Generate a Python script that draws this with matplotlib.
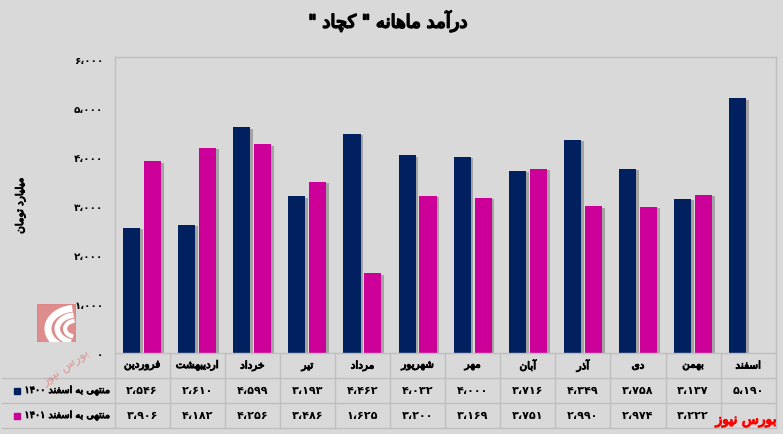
import re
import numpy as np
import matplotlib
matplotlib.use("Agg")
import matplotlib.pyplot as plt
from matplotlib import patheffects as pe
from matplotlib.patches import Rectangle, Arc

# data
months = ["فروردین", "اردیبهشت", "خرداد", "تیر", "مرداد", "شهریور",
          "مهر", "آبان", "آذر", "دی", "بهمن", "اسفند"]
rev_1400 = [2546, 2610, 4599, 3193, 4462, 4032, 4000, 3716, 4349, 3758, 3137, 5190]
rev_1401 = [3906, 4182, 4256, 3486, 1625, 3200, 3169, 3751, 2990, 2974, 3222, np.nan]
series_names = ["منتهی به اسفند ۱۴۰۰", "منتهی به اسفند ۱۴۰۱"]
title = 'درآمد ماهانه " کچاد "'
ylabel = "میلیارد تومان"
yticks = [0, 1000, 2000, 3000, 4000, 5000, 6000]
source = "بورس نیوز"

navy = "#002060"
magenta = "#CC0099"
bg = "#d9d9d9"
grid_c = "#bfbfbf"

# tiny arabic shaper (matplotlib has no complex text layout)
FORMS = {
    'ا': ('\uFE8D', '\uFE8E', None, None),
    'آ': ('\uFE81', '\uFE82', None, None),
    'ب': ('\uFE8F', '\uFE90', '\uFE91', '\uFE92'),
    'ت': ('\uFE95', '\uFE96', '\uFE97', '\uFE98'),
    'خ': ('\uFEA5', '\uFEA6', '\uFEA7', '\uFEA8'),
    'د': ('\uFEA9', '\uFEAA', None, None),
    'ذ': ('\uFEAB', '\uFEAC', None, None),
    'ر': ('\uFEAD', '\uFEAE', None, None),
    'ز': ('\uFEAF', '\uFEB0', None, None),
    'س': ('\uFEB1', '\uFEB2', '\uFEB3', '\uFEB4'),
    'ش': ('\uFEB5', '\uFEB6', '\uFEB7', '\uFEB8'),
    'ف': ('\uFED1', '\uFED2', '\uFED3', '\uFED4'),
    'ل': ('\uFEDD', '\uFEDE', '\uFEDF', '\uFEE0'),
    'م': ('\uFEE1', '\uFEE2', '\uFEE3', '\uFEE4'),
    'ن': ('\uFEE5', '\uFEE6', '\uFEE7', '\uFEE8'),
    'ه': ('\uFEE9', '\uFEEA', '\uFEEB', '\uFEEC'),
    'و': ('\uFEED', '\uFEEE', None, None),
    '\u06CC': ('\uFBFC', '\uFBFD', '\uFBFE', '\uFBFF'),
    '\u06A9': ('\uFB8E', '\uFB8F', '\uFB90', '\uFB91'),
    'چ': ('\uFB7A', '\uFB7B', '\uFB7C', '\uFB7D'),
}


def fa(s):
    s = s.replace('\u064A', '\u06CC').replace('\u0643', '\u06A9')
    out = []
    for i, c in enumerate(s):
        if c not in FORMS:
            out.append(c)
            continue
        f = FORMS[c]
        prev = s[i - 1] if i > 0 else ''
        nxt = s[i + 1] if i + 1 < len(s) else ''
        jp = prev in FORMS and FORMS[prev][2] is not None
        jn = f[2] is not None and nxt in FORMS
        if jp and jn:
            out.append(f[3])
        elif jp:
            out.append(f[1])
        elif jn:
            out.append(f[2])
        else:
            out.append(f[0])
    vis = ''.join(out)[::-1]
    return re.sub('[۰-۹،]+', lambda m: m.group(0)[::-1], vis)


def fa_num(v):
    s = f"{int(v):,}".replace(",", "،")
    return s.translate(str.maketrans("0123456789", "۰۱۲۳۴۵۶۷۸۹"))


def heavy(color='black', w=0.7):
    # regular face has all arabic forms, thicken it with a stroke
    return [pe.withStroke(linewidth=w, foreground=color)]


plt.rcParams['font.family'] = ['DejaVu Sans']

W, H = 783, 435
fig = plt.figure(figsize=(W / 100, H / 100), dpi=100, facecolor=bg)

x0, x1, y_top, y_bot = 114.5, 775.7, 58.3, 354.0
ax = fig.add_axes([x0 / W, 1 - y_bot / H, (x1 - x0) / W, (y_bot - y_top) / H])
ax.set_facecolor(bg)

x = np.arange(len(months))
bw, off = 0.31, 0.19
shadow = [pe.SimplePatchShadow(offset=(2, -1), shadow_rgbFace='#808080', alpha=0.6), pe.Normal()]
b1 = ax.bar(x - off, rev_1400, bw, color=navy)
b2 = ax.bar(x + off, rev_1401, bw, color=magenta)
for b in list(b1) + list(b2):
    b.set_path_effects(shadow)

ax.set_xlim(-0.5, 11.5)
ax.set_ylim(0, 6000 * (y_bot - y_top) / (y_bot - 59.6))
ax.set_xticks([])
ax.set_yticks(yticks)
ax.set_yticklabels([fa_num(v) for v in yticks], fontsize=7.5, fontweight='bold')
ax.tick_params(axis='y', length=0, pad=8)
for sp in ax.spines.values():
    sp.set_color(grid_c)
    sp.set_linewidth(1)

fig.text(388 / W, 1 - 22 / H, fa(title), ha='center', va='center', fontsize=13,
         path_effects=heavy(w=1.2))
fig.text(20 / W, 1 - 207 / H, fa(ylabel), ha='center', va='center', rotation=90,
         fontsize=7.5, path_effects=heavy())

# data table under the plot
tab = fig.add_axes([x0 / W, 1 - 429 / H, (x1 - x0) / W, (429 - y_bot) / H])
tab.set_xlim(-0.5, 11.5)
tab.set_ylim(3, 0)
tab.axis('off')
unit = (x1 - x0) / 12
left = -0.5 - (x0 - 2) / unit
for r in [1, 2, 3]:
    tab.plot([left, 11.5], [r, r], color=grid_c, lw=1, clip_on=False)
for k in range(13):
    tab.plot([k - 0.5, k - 0.5], [0, 3], color=grid_c, lw=1, clip_on=False)

for i, m in enumerate(months):
    tab.text(i, 0.5, fa(m), ha='center', va='center', fontsize=7.5, path_effects=heavy())
    tab.text(i, 1.5, fa_num(rev_1400[i]), ha='center', va='center', fontsize=8, fontweight='bold')
    if not np.isnan(rev_1401[i]):
        tab.text(i, 2.5, fa_num(rev_1401[i]), ha='center', va='center', fontsize=8, fontweight='bold')

for r, (name, c) in enumerate(zip(series_names, [navy, magenta])):
    tab.plot([-0.5 - (x0 - 17) / unit], [r + 1.5], marker='s', ms=5, color=c, clip_on=False)
    tab.text(-0.5 - 4 / unit, r + 1.5, fa(name), ha='right', va='center', fontsize=7,
             path_effects=heavy(w=0.6), clip_on=False)

# watermark logo
logo = fig.add_axes([37 / W, 1 - 343 / H, 39 / W, 38 / H])
logo.set_xlim(0, 1)
logo.set_ylim(0, 1)
logo.axis('off')
logo.add_patch(Rectangle((0, 0), 1, 1, color='#e08080', alpha=0.85))
for rad, lw in [(0.9, 5), (0.6, 4), (0.35, 3)]:
    logo.add_patch(Arc((1.0, 0.35), rad * 1.6, rad * 1.2, theta1=100, theta2=250, color='white', lw=lw))
fig.text(66 / W, 1 - 368 / H, fa(source), ha='center', va='center', rotation=35,
         fontsize=9, color='#e07070', alpha=0.6)

fig.text(777 / W, 1 - 421 / H, fa(source), ha='right', va='center', fontsize=10,
         color='#ff0000', path_effects=heavy('#ff0000', 0.9))

fig.savefig("out.png", dpi=100, facecolor=bg)
